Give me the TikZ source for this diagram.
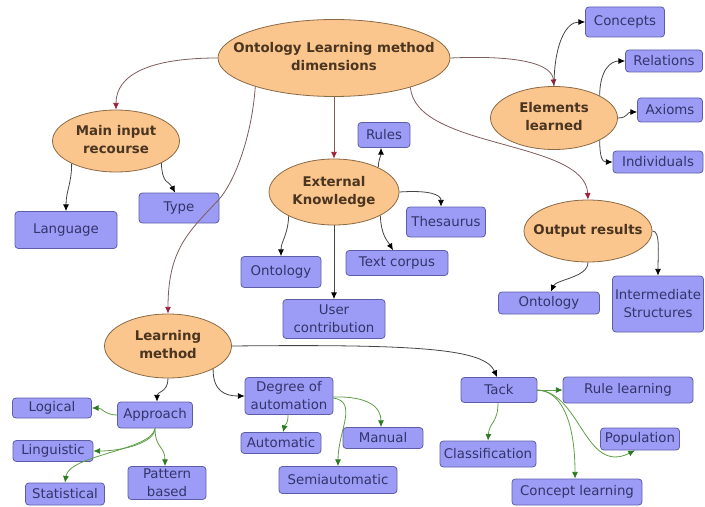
\documentclass[tikz,border=0pt]{standalone}
\usepackage{fontspec}
\setmainfont{DejaVu Sans}
\usetikzlibrary{arrows.meta,shapes.geometric,calc}

\definecolor{ovalfill}{HTML}{FBC58E}
\definecolor{ovalline}{HTML}{8A6A45}
\definecolor{ovaltxt}{HTML}{4A3520}
\definecolor{boxfill}{HTML}{9C9CF6}
\definecolor{boxline}{HTML}{5E5EA8}
\definecolor{boxtxt}{HTML}{34346A}
\definecolor{mainline}{HTML}{7E5C5C}
\definecolor{maintip}{HTML}{9E1F3A}
\definecolor{subline}{HTML}{454545}
\definecolor{leafline}{HTML}{5E9E46}
\definecolor{leaftip}{HTML}{2C7A22}

% centred two-line label that does not enlarge the ellipse
\newcommand{\ovaltext}[1]{\makebox[0pt]{\smash{\raisebox{-2.5pt}{\def\arraystretch{1.12}\begin{tabular}{@{}c@{}}#1\end{tabular}}}}}

\tikzset{
  sz/.code 2 args={%
    \pgfmathsetlengthmacro\nodewd{0.75*#1}%
    \pgfmathsetlengthmacro\nodeht{0.75*#2}%
    \edef\tmpkeys{\noexpand\pgfkeysalso{minimum width=\nodewd, minimum height=\nodeht}}\tmpkeys},
  oval/.style={ellipse, draw=ovalline, fill=ovalfill, line width=0.6pt, inner sep=0pt,
    text=ovaltxt, font=\fontsize{10}{12}\selectfont\bfseries},
  item/.style={rectangle, rounded corners=2.5pt, draw=boxline, fill=boxfill, line width=0.6pt,
    inner sep=0pt, text=boxtxt, align=center, font=\fontsize{10}{13.5}\selectfont},
  mainedge/.style={draw=mainline, line width=0.6pt, -{Latex[length=5pt,width=4.5pt,color=maintip]}},
  subedge/.style={draw=subline, line width=0.6pt, -{Latex[length=5pt,width=4.5pt,color=black]}},
  leafedge/.style={draw=leafline, line width=0.6pt, -{Latex[length=5pt,width=4.5pt,color=leaftip]}},
}

\begin{document}
\begin{tikzpicture}[x=0.75pt, y=-0.75pt]
\useasboundingbox (0,0) rectangle (705,506);

% ellipses
\node[oval, sz={232}{77}] (root) at (334,58) {\ovaltext{Ontology Learning method\\dimensions}};
\node[oval, sz={127}{62}] (mi) at (116,141) {\ovaltext{Main input\\recourse}};
\node[oval, sz={130}{66}] (ek) at (334,192) {\ovaltext{External\\Knowledge}};
\node[oval, sz={127}{63}] (el) at (554,118) {\ovaltext{Elements\\learned}};
\node[oval, sz={128}{62}] (or) at (588,231) {\ovaltext{Output results}};
\node[oval, sz={127}{64}] (lm) at (168,346) {\ovaltext{Learning\\method}};

% boxes
\node[item, sz={102}{37}] (lang) at (66,230) {Language};
\node[item, sz={80}{30}] (type) at (179,208) {Type};
\node[item, sz={52}{25}] (rules) at (384,135) {Rules};
\node[item, sz={79}{30}] (thes) at (446,222) {Thesaurus};
\node[item, sz={102}{25}] (corpus) at (397,263) {Text corpus};
\node[item, sz={80}{31}] (onto1) at (281,272) {Ontology};
\node[item, sz={102}{39}] (user) at (334,319) {User\\contribution};
\node[item, sz={79}{30}] (concepts) at (625,22) {Concepts};
\node[item, sz={77}{22}] (rel) at (664,61) {Relations};
\node[item, sz={65}{24}] (axioms) at (670,110) {Axioms};
\node[item, sz={90}{22}] (indiv) at (658,162) {Individuals};
\node[item, sz={101}{22}] (onto2) at (549,303) {Ontology};
\node[item, sz={91}{56}] (inter) at (658,304) {Intermediate\\Structures};
\node[item, sz={88}{37}] (degree) at (289,396) {Degree of\\automation};
\node[item, sz={75}{26}] (approach) at (155,415) {Approach};
\node[item, sz={79}{20}] (logical) at (52,408) {Logical};
\node[item, sz={80}{21}] (ling) at (53,451) {Linguistic};
\node[item, sz={79}{22}] (stat) at (65,494) {Statistical};
\node[item, sz={78}{33}] (pattern) at (167,483) {Pattern\\based};
\node[item, sz={80}{21}] (auto) at (281,443) {Automatic};
\node[item, sz={80}{21}] (manual) at (383,438) {Manual};
\node[item, sz={118}{27}] (semi) at (338,480) {Semiautomatic};
\node[item, sz={76}{25}] (tack) at (499,390) {Tack};
\node[item, sz={130}{26}] (rule) at (628,390) {Rule learning};
\node[item, sz={96}{26}] (class) at (488,454) {Classification};
\node[item, sz={79}{22}] (pop) at (640,439) {Population};
\node[item, sz={130}{26}] (concl) at (577,492) {Concept learning};

% dimensions
\draw[mainedge] (root.west) .. controls +(-68,0) and +(0,-35) .. (mi.north);
\draw[mainedge] (root.200) .. controls +(-4,55) and +(14,-15) .. ($(type.east)+(-1,-8)$)
  .. controls +(-30,32) and +(0,-64) .. (lm.north);
\draw[mainedge] (root.south) -- (ek.north);
\draw[mainedge] (root.east) .. controls +(70,-3) and +(-2,-22) .. (el.north);
\draw[mainedge] (root.-21) .. controls +(5,62) and +(-3,-60) .. (or.north);

% main input recourse
\draw[subedge] (mi.-153) .. controls +(0,20) and +(0,-20) .. (lang.north);
\draw[subedge] (mi.-26) .. controls +(1,22) and +(-6,-12) .. ($(type.north)+(-4,0)$);

% external knowledge
\draw[subedge] (ek.29) .. controls +(0,-8) and +(0,8) .. ($(rules.south)+(-3,0)$);
\draw[subedge] (ek.east) .. controls +(30,-2) and +(0,-12) .. ($(thes.north)+(-5,0)$);
\draw[subedge] (ek.-27) .. controls +(1,20) and +(-6,-10) .. ($(corpus.north)+(-4,0)$);
\draw[subedge] (ek.-152) .. controls +(-1,20) and +(0,-15) .. (onto1.north);
\draw[subedge] (ek.south) -- (user.north);

% elements learned
\draw[subedge] (el.north) .. controls +(0,-40) and +(-20,0) .. (concepts.west);
\draw[subedge] (el.26) .. controls +(0,-25) and +(-15,0) .. (rel.west);
\draw[subedge] (el.east) .. controls +(10,0) and +(-10,0) .. ($(axioms.west)+(0,2)$);
\draw[subedge] (el.-26) .. controls +(0,18) and +(-10,0) .. (indiv.west);

% output results
\draw[subedge] (or.south) .. controls +(0,15) and +(5,-12) .. ($(onto2.north)+(2,0)$);
\draw[subedge] (or.east) .. controls +(8,0) and +(0,-25) .. (inter.north);

% learning method
\draw[subedge] (lm.south) .. controls +(0,14) and +(0,-10) .. ($(approach.north)+(2,0)$);
\draw[subedge] (lm.-27) .. controls +(0,22) and +(-20,0) .. (degree.west);
\draw[subedge] (lm.east) .. controls +(190,-2) and +(-12,-28) .. ($(tack.north)+(-2,0)$);

% approach
\draw[leafedge] (approach.west) .. controls +(-12,0) and +(10,0) .. (logical.east);
\draw[leafedge] (approach.south) .. controls +(0,14) and +(30,0) .. (ling.east);
\draw[leafedge] (approach.south) .. controls +(-3,22) and +(4,-28) .. (stat.north);
\draw[leafedge] (approach.south) .. controls +(0,20) and +(0,-20) .. ($(pattern.north)+(-2,0)$);

% degree of automation
\draw[leafedge] ($(degree.south)+(-1,0)$) .. controls +(0,10) and +(2,-8) .. ($(auto.north)+(2,0)$);
\draw[leafedge] ($(degree.east)+(0,1)$) .. controls +(35,-1) and +(0,-20) .. ($(manual.north)+(-2,0)$);
\draw[leafedge] ($(degree.east)+(0,2)$) .. controls +(25,4) and +(0,-35) .. (semi.north);

% tack
\draw[leafedge] (tack.east) -- (rule.west);
\draw[leafedge] ($(tack.south)+(-1,0)$) .. controls +(0,20) and +(1,-18) .. (class.north);
\draw[leafedge] (tack.east) .. controls +(25,1) and +(0,-55) .. ($(concl.north)+(-2,0)$);
\draw[leafedge] (tack.east) .. controls +(43,2) and +(-50,25) .. ($(pop.south)+(-5,0)$);
\end{tikzpicture}
\end{document}
